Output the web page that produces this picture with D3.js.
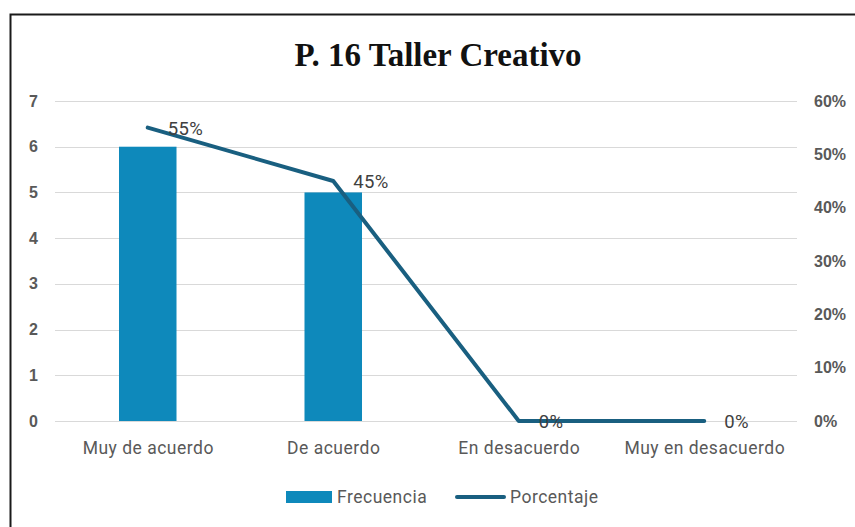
<!DOCTYPE html>
<html>
<head>
<meta charset="utf-8">
<script src="https://cdn.jsdelivr.net/npm/d3@7"></script>
<style>
  html, body { margin: 0; padding: 0; background: #fff; }
  svg { display: block; }
</style>
</head>
<body>
<div id="chart"></div>
<script>
const categories = ['Muy de acuerdo', 'De acuerdo', 'En desacuerdo', 'Muy en desacuerdo'];
const frecuencia = [6, 5, 0, 0];
const porcentaje = [0.55, 0.45, 0, 0];
const leftTicks = [0, 1, 2, 3, 4, 5, 6, 7];
const rightTicks = [0, 0.1, 0.2, 0.3, 0.4, 0.5, 0.6];

const width = 855;
const height = 527;
const margin = { top: 101, right: 58, bottom: 106, left: 55 };

const svg = d3.select('#chart').append('svg')
  .attr('width', width)
  .attr('height', height)
  .attr('viewBox', `0 0 ${width} ${height}`);

// chart frame (only top and left edges are visible)
svg.append('path')
  .attr('d', `M10.5,${height} V14.5 H${width}`)
  .attr('fill', 'none')
  .attr('stroke', '#1a1a1a')
  .attr('stroke-width', 2);

svg.append('text')
  .attr('x', 438)
  .attr('y', 66)
  .attr('text-anchor', 'middle')
  .attr('font-family', '"Liberation Serif", "Times New Roman", serif')
  .attr('font-weight', 'bold')
  .attr('font-size', 33)
  .attr('fill', '#111')
  .text('P. 16 Taller Creativo');

const x = d3.scaleBand()
  .domain(categories)
  .range([margin.left, width - margin.right])
  .paddingInner(0.69)
  .paddingOuter(0.345);

const xc = d3.scalePoint()
  .domain(categories)
  .range([margin.left, width - margin.right])
  .padding(0.5);

const yL = d3.scaleLinear().domain([0, 7]).range([height - margin.bottom, margin.top]);
const yR = d3.scaleLinear().domain([0, 0.6]).range([height - margin.bottom, margin.top]);

// gridlines
svg.append('g')
  .selectAll('line')
  .data(leftTicks)
  .join('line')
  .attr('x1', margin.left)
  .attr('x2', width - margin.right)
  .attr('y1', d => Math.round(yL(d)) + 0.5)
  .attr('y2', d => Math.round(yL(d)) + 0.5)
  .attr('stroke', '#d9d9d9')
  .attr('stroke-width', 1);

// left axis
const axisL = svg.append('g')
  .attr('transform', `translate(${margin.left},0)`)
  .call(d3.axisLeft(yL).tickValues(leftTicks).tickFormat(d3.format('d')).tickSize(0).tickPadding(17));
axisL.select('.domain').remove();
axisL.selectAll('text')
  .attr('font-family', '"Liberation Sans", Arial, sans-serif')
  .attr('font-weight', 'bold')
  .attr('font-size', 16)
  .attr('fill', '#595959');

// right axis
const axisR = svg.append('g')
  .attr('transform', `translate(${width - margin.right},0)`)
  .call(d3.axisRight(yR).tickValues(rightTicks).tickFormat(d3.format('.0%')).tickSize(0).tickPadding(17));
axisR.select('.domain').remove();
axisR.selectAll('text')
  .attr('font-family', '"Liberation Sans", Arial, sans-serif')
  .attr('font-weight', 'bold')
  .attr('font-size', 16)
  .attr('fill', '#595959');

// category axis
const axisB = svg.append('g')
  .attr('transform', `translate(0,${height - margin.bottom})`)
  .call(d3.axisBottom(xc).tickSize(0).tickPadding(21));
axisB.select('.domain').remove();
axisB.selectAll('text')
  .attr('font-family', 'Roboto, "Noto Sans", sans-serif')
  .attr('font-size', 17.5)
  .attr('letter-spacing', 0.5)
  .attr('fill', '#595959');

// bars
svg.append('g')
  .selectAll('rect')
  .data(categories)
  .join('rect')
  .attr('x', d => x(d))
  .attr('width', x.bandwidth())
  .attr('y', (d, i) => yL(frecuencia[i]))
  .attr('height', (d, i) => yL(0) - yL(frecuencia[i]))
  .attr('fill', '#0e89bb');

// line
const line = d3.line()
  .x(d => xc(d.c))
  .y(d => yR(d.v));
const pts = categories.map((c, i) => ({ c, v: porcentaje[i] }));
svg.append('path')
  .datum(pts)
  .attr('d', line)
  .attr('fill', 'none')
  .attr('stroke', '#195f80')
  .attr('stroke-width', 4)
  .attr('stroke-linecap', 'round')
  .attr('stroke-linejoin', 'round');

// data labels
svg.append('g')
  .selectAll('text')
  .data(pts)
  .join('text')
  .attr('x', d => xc(d.c) + 20)
  .attr('y', d => yR(d.v) + 7)
  .attr('font-family', 'Roboto, "Noto Sans", sans-serif')
  .attr('font-size', 18.5)
  .attr('letter-spacing', 0.4)
  .attr('fill', '#404040')
  .text(d => d3.format('.0%')(d.v));

// legend
const legend = svg.append('g').attr('font-family', 'Roboto, "Noto Sans", sans-serif')
  .attr('font-size', 17.5).attr('letter-spacing', 0.5).attr('fill', '#595959');
legend.append('rect')
  .attr('x', 286).attr('y', 491).attr('width', 46).attr('height', 12)
  .attr('fill', '#0e89bb');
legend.append('text').attr('x', 337).attr('y', 503).text('Frecuencia');
legend.append('line')
  .attr('x1', 457).attr('x2', 504).attr('y1', 497).attr('y2', 497)
  .attr('stroke', '#195f80').attr('stroke-width', 4).attr('stroke-linecap', 'round');
legend.append('text').attr('x', 510).attr('y', 503).text('Porcentaje');
</script>
</body>
</html>
